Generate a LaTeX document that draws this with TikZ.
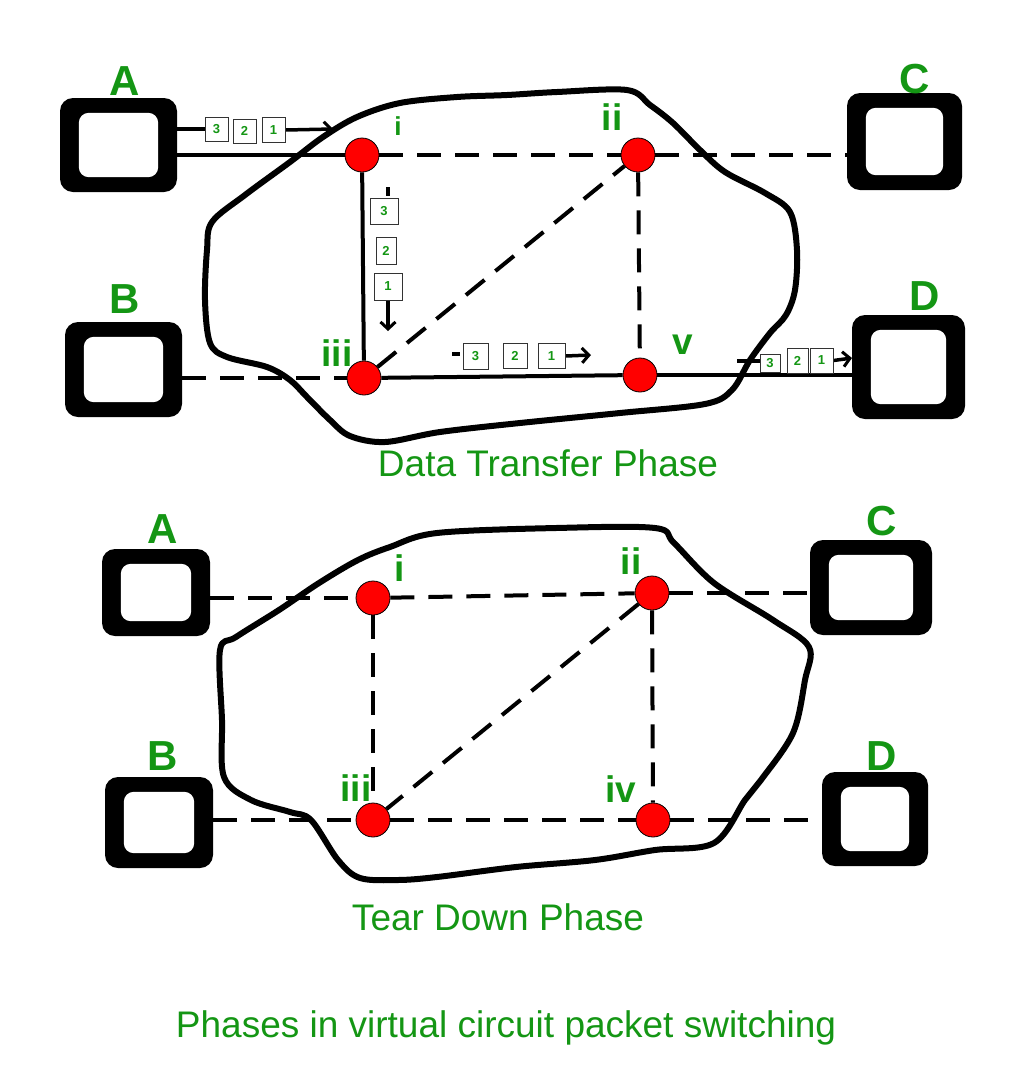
\documentclass[tikz,border=0pt]{standalone}
\usepackage{fontspec}
\setmainfont{Liberation Sans}
\usetikzlibrary{arrows.meta,calc}
\definecolor{gfgreen}{RGB}{20,150,20}
\pgfdeclarelayer{bg}
\pgfsetlayers{bg,main}
\begin{document}
\begin{tikzpicture}[x=1pt,y=-1pt,
  compbox/.style={fill=black, rounded corners=13pt, inner sep=0pt, draw=none},
  router/.style={circle, fill=red, draw=black, line width=0.8pt, minimum size=34pt, inner sep=0pt},
  letterlbl/.style={text=gfgreen, font=\fontsize{42}{42}\selectfont\bfseries, inner sep=0pt, anchor=base},
  romanlbl/.style={text=gfgreen, font=\fontsize{37}{37}\selectfont\bfseries, inner sep=0pt, anchor=base},
  titlelbl/.style={text=gfgreen, font=\fontsize{37}{40}\selectfont, inner sep=0pt, anchor=base},
  solidlink/.style={line width=4pt},
  dashlink/.style={line width=4pt, dash pattern=on 24pt off 14pt},
  blobline/.style={line width=6pt, line join=round},
  pkt/.style={draw=black!80, line width=0.9pt, fill=white, inner sep=0pt, text=gfgreen, font=\fontsize{13}{13}\selectfont\bfseries},
  pktline/.style={line width=3.5pt},
  pktarrow/.style={line width=3.5pt, -{Straight Barb[length=7pt,width=15pt,line width=3pt]}}
]
\useasboundingbox (0,0) rectangle (1023,1080);

% ---------- computers ----------
\node[compbox, minimum width=117pt, minimum height=94pt]  (A)  at (118.5,145) {};
\node[compbox, minimum width=115pt, minimum height=97pt]  (C)  at (904.5,141.5) {};
\node[compbox, minimum width=117pt, minimum height=95pt]  (B)  at (123.5,369.5) {};
\node[compbox, minimum width=113pt, minimum height=104pt] (D)  at (908.5,367) {};
\node[compbox, minimum width=108pt, minimum height=87pt]  (A2) at (156,592.5) {};
\node[compbox, minimum width=108pt, minimum height=91pt]  (B2) at (159,822.5) {};
\node[compbox, minimum width=122pt, minimum height=95pt]  (C2) at (871,587.5) {};
\node[compbox, minimum width=106pt, minimum height=94pt]  (D2) at (875,819) {};
\foreach \n in {A,B,C,D,A2,B2,C2,D2}
  \fill[white, rounded corners=10pt] ([shift={(19pt,-15pt)}]\n.north west) rectangle ([shift={(-19pt,15pt)}]\n.south east);

% ---------- routers ----------
\node[router] (i)    at (362,155) {};
\node[router] (ii)   at (638,155) {};
\node[router] (iii)  at (364,378) {};
\node[router] (v)    at (640,375) {};
\node[router] (i2)   at (373,598) {};
\node[router] (ii2)  at (652,593) {};
\node[router] (iii2) at (373,820) {};
\node[router] (iv2)  at (653,820) {};

% ---------- packets ----------
\node[pkt, minimum width=23pt, minimum height=24pt] (pa3) at (216.5,129) {3};
\node[pkt, minimum width=23pt, minimum height=24pt] (pa2) at (244.5,131) {2};
\node[pkt, minimum width=23pt, minimum height=25pt] (pa1) at (273.5,130) {1};
\coordinate (paend) at (333,129);

\coordinate (pbstart) at (388,187);
\node[pkt, minimum width=28pt, minimum height=26pt] (pb3) at (384,211) {3};
\node[pkt, minimum width=20pt, minimum height=27pt] (pb2) at (386,250.5) {2};
\node[pkt, minimum width=28pt, minimum height=27pt] (pb1) at (388,286.5) {1};
\coordinate (pbend) at (388,331);

\coordinate (pcstart) at (452,354);
\node[pkt, minimum width=25pt, minimum height=26pt] (pc3) at (475.5,356) {3};
\node[pkt, minimum width=24pt, minimum height=25pt] (pc2) at (515,355.5) {2};
\node[pkt, minimum width=27pt, minimum height=25pt] (pc1) at (551.5,356) {1};
\coordinate (pcend) at (591,355);

\coordinate (pdstart) at (737,361);
\node[pkt, minimum width=20pt, minimum height=18pt] (pd3) at (770,363.5) {3};
\node[pkt, minimum width=21pt, minimum height=25pt] (pd2) at (797.5,360.5) {2};
\node[pkt, minimum width=23pt, minimum height=25pt] (pd1) at (821.5,360.5) {1};
\coordinate (pdend) at (852,358);

\begin{pgfonlayer}{bg}
% ---------- top links ----------
\draw[solidlink] (A.east |- i) -- (i);
\draw[dashlink] (i) -- (ii);
\draw[dashlink] (ii) -- (ii -| C.west);
\draw[solidlink] (i) -- (iii);
\draw[dashlink] (B.east |- iii) -- (iii);
\draw[dashlink] (iii) -- (ii);
\draw[dashlink] (ii) -- (v);
\draw[solidlink] (iii) -- (v);
\draw[solidlink] (v) -- (v -| D.west);
% ---------- bottom links ----------
\draw[dashlink] (A2.east |- i2) -- (i2);
\draw[dashlink] (i2) -- (ii2);
\draw[dashlink] (ii2) -- (ii2 -| C2.west);
\draw[dashlink] (B2.east |- iii2) -- (iii2);
\draw[dashlink] (iii2) -- (iv2);
\draw[dashlink] (iv2) -- (iv2 -| D2.west);
\draw[dashlink] (i2) -- (iii2);
\draw[dashlink] (ii2) -- (iv2);
\draw[dashlink] (ii2) -- (iii2);
% ---------- clouds ----------
\draw[blobline] plot[smooth cycle, tension=0.55] coordinates {
 (212,222) (245,195) (290,162) (323,137) (357,117) (400,103) (457,97) (507,95)
 (557,92) (627,90) (650,105) (673,123) (700,150) (725,172) (765,193) (790,212)
 (797,250) (795,290) (786,315) (770,333) (750,360) (732,390) (705,404) (620,413) (520,423)
 (440,432) (385,442) (350,436) (330,420) (307,397) (290,380) (267,367) (227,357)
 (210,343) (205,300) (207,250)};
\draw[blobline] plot[smooth cycle, tension=0.55] coordinates {
 (220,650) (236,637) (279,610) (319,583) (358,560) (390,547) (437,533) (556,528)
 (655,528) (674,543) (714,583) (773,620) (809,647) (805,680) (793,733) (761,780)
 (745,800) (714,843) (655,850) (595,860) (516,867) (437,877) (398,880) (360,878)
 (338,860) (311,820) (290,812) (251,800) (224,777) (222,720)};
% ---------- packet arrows ----------
\draw[pktline] (A.east |- pa3) -- (pa3.west);
\draw[pktarrow] (pa1.east) -- (paend);
\draw[pktline, shorten >=2pt] (pbstart) -- (pbstart |- pb3.north);
\draw[pktarrow] (pb1.south -| pbend) -- (pbend);
\draw[pktline, shorten >=3pt] (pcstart) -- (pcstart -| pc3.west);
\draw[pktarrow] (pc1.east) -- (pcend);
\draw[pktline] (pdstart) -- (pdstart -| pd3.west);
\draw[pktarrow] (pd1.east) -- (pdend);
\end{pgfonlayer}

% ---------- labels ----------
\node[letterlbl] (lA)  at (125,95)  {A};
\node[letterlbl] (lB)  at (125,313) {B};
\node[letterlbl] (lC)  at (915,93)  {C};
\node[letterlbl] (lD)  at (925,310) {D};
\node[letterlbl] (lA2) at (163,543) {A};
\node[letterlbl] (lB2) at (163,770) {B};
\node[letterlbl] (lC2) at (882,535) {C};
\node[letterlbl] (lD2) at (882,770) {D};

\node[romanlbl, font=\fontsize{26}{26}\selectfont\bfseries] (li) at (398,135) {i};
\node[romanlbl] (lii)   at (612,130) {ii};
\node[romanlbl] (liii)  at (337,366) {iii};
\node[romanlbl] (lv)    at (683,354) {v};
\node[romanlbl] (li2)   at (400,581) {i};
\node[romanlbl] (lii2)  at (631,574) {ii};
\node[romanlbl] (liii2) at (356,801) {iii};
\node[romanlbl] (liv2)  at (621,802) {iv};

\node[titlelbl] (t1) at (548,476)  {Data Transfer Phase};
\node[titlelbl] (t2) at (498,930)  {Tear Down Phase};
\node[titlelbl] (t3) at (506,1037) {Phases in virtual circuit packet switching};
\end{tikzpicture}
\end{document}
